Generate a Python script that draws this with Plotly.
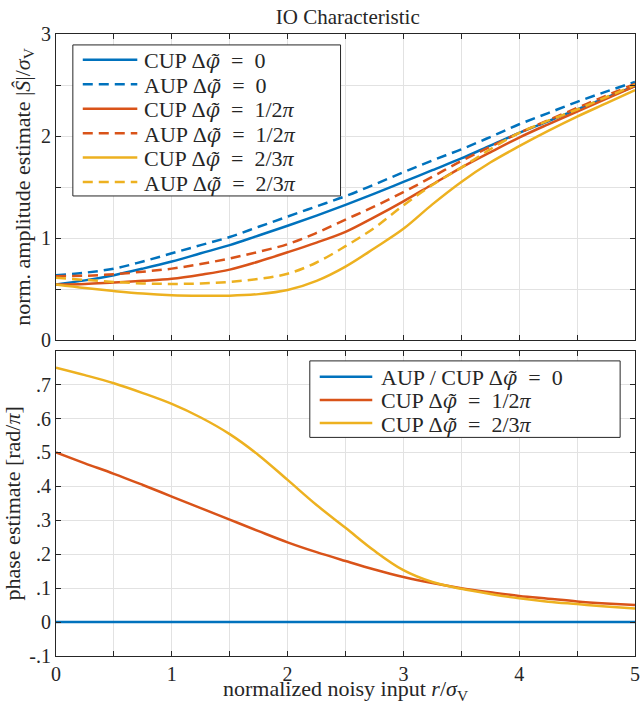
import plotly.graph_objects as go

# ---- data ----
x_top = [0, 0.25, 0.5, 0.75, 1, 1.25, 1.5, 1.75, 2, 2.25, 2.5, 2.75, 3, 3.25, 3.5, 3.75, 4, 4.25, 4.5, 4.75, 5]
cup0  = [0.545, 0.585, 0.636, 0.70, 0.77, 0.85, 0.93, 1.025, 1.12, 1.22, 1.325, 1.435, 1.55, 1.665, 1.78, 1.905, 2.03, 2.145, 2.26, 2.375, 2.49]
aup0  = [0.636, 0.66, 0.70, 0.77, 0.85, 0.93, 1.01, 1.11, 1.21, 1.31, 1.41, 1.525, 1.645, 1.76, 1.87, 1.99, 2.115, 2.225, 2.335, 2.435, 2.53]
cup12 = [0.545, 0.55, 0.565, 0.58, 0.60, 0.64, 0.69, 0.77, 0.86, 0.955, 1.06, 1.205, 1.36, 1.525, 1.69, 1.84, 1.985, 2.115, 2.24, 2.365, 2.49]
aup12 = [0.626, 0.63, 0.645, 0.67, 0.70, 0.745, 0.80, 0.865, 0.94, 1.05, 1.18, 1.31, 1.45, 1.60, 1.755, 1.895, 2.03, 2.155, 2.275, 2.395, 2.51]
cup23 = [0.545, 0.51, 0.48, 0.455, 0.44, 0.435, 0.435, 0.45, 0.49, 0.58, 0.72, 0.90, 1.09, 1.33, 1.55, 1.74, 1.90, 2.05, 2.19, 2.32, 2.45]
aup23 = [0.61, 0.59, 0.57, 0.555, 0.55, 0.555, 0.57, 0.60, 0.65, 0.76, 0.92, 1.10, 1.32, 1.52, 1.69, 1.87, 2.03, 2.15, 2.26, 2.38, 2.50]

x_bot = [0, 0.25, 0.5, 0.75, 1, 1.25, 1.5, 1.75, 2, 2.25, 2.5, 2.75, 3, 3.25, 3.5, 3.75, 4, 4.25, 4.5, 4.75, 5]
ph0   = [0] * 21
ph12  = [0.5, 0.468, 0.437, 0.404, 0.37, 0.336, 0.302, 0.268, 0.235, 0.206, 0.18, 0.155, 0.133, 0.115, 0.10, 0.088, 0.077, 0.069, 0.061, 0.055, 0.05]
ph23  = [0.75, 0.728, 0.704, 0.675, 0.643, 0.603, 0.554, 0.492, 0.419, 0.345, 0.278, 0.21, 0.153, 0.118, 0.098, 0.083, 0.07, 0.06, 0.053, 0.046, 0.04]

top_ticks = [0, 0.5, 1, 1.5, 2, 2.5, 3]
top_ticktext = ["0", "", "1", "", "2", "", "3"]
bot_ticks = [-0.1, 0, 0.1, 0.2, 0.3, 0.4, 0.5, 0.6, 0.7, 0.8]
bot_ticktext = ["-.1", "0", ".1", ".2", ".3", ".4", ".5", ".6", ".7", ""]
x_ticks = [0, 0.5, 1, 1.5, 2, 2.5, 3, 3.5, 4, 4.5, 5]
x_ticktext = ["0", "", "1", "", "2", "", "3", "", "4", "", "5"]

BLUE, ORANGE, YELLOW = "#0072BD", "#D95319", "#EDB120"
FONT = "Liberation Serif, Times New Roman, serif"
INK = "#262626"
DASH = "10px,6px"
PHI = 'Δ<span style="font-family:Noto Serif;font-size:20px"><i>φ̃</i></span>'
PI = "<i>π</i>"
EQ = "\u2002=\u2002"

top_labels = [f"CUP {PHI}{EQ}0", f"AUP {PHI}{EQ}0",
              f"CUP {PHI}{EQ}1/2{PI}", f"AUP {PHI}{EQ}1/2{PI}",
              f"CUP {PHI}{EQ}2/3{PI}", f"AUP {PHI}{EQ}2/3{PI}"]
top_series = [cup0, aup0, cup12, aup12, cup23, aup23]
top_colors = [BLUE, BLUE, ORANGE, ORANGE, YELLOW, YELLOW]
top_dashes = ["solid", DASH, "solid", DASH, "solid", DASH]

bot_labels = [f"AUP / CUP {PHI}{EQ}0", f"CUP {PHI}{EQ}1/2{PI}", f"CUP {PHI}{EQ}2/3{PI}"]
bot_series = [ph0, ph12, ph23]
bot_colors = [BLUE, ORANGE, YELLOW]

fig = go.Figure()

for y, name, c, d in zip(top_series, top_labels, top_colors, top_dashes):
    fig.add_trace(go.Scatter(x=x_top, y=y, name=name, mode="lines", showlegend=False,
                             line=dict(color=c, width=2.5, dash=d, shape="spline", smoothing=1.0),
                             xaxis="x", yaxis="y"))
for y, name, c in zip(bot_series, bot_labels, bot_colors):
    fig.add_trace(go.Scatter(x=x_bot, y=y, name=name, mode="lines", showlegend=False,
                             line=dict(color=c, width=2.5, shape="spline", smoothing=1.0),
                             xaxis="x2", yaxis="y2"))

# ---- layout geometry (pixels of the 644x704 page) ----
L, R, T, B = 56, 640, 34, 660
def pxx(p):
    return (p - L) / (R - L)
def pxy(p):
    return (B - p) / (B - T)

def legend_box(x0, y0, x1, y1, rows_y, line_x0, line_x1, text_x, labels, colors, dashes):
    fig.add_shape(type="rect", xref="paper", yref="paper",
                  x0=pxx(x0), x1=pxx(x1), y0=pxy(y1), y1=pxy(y0),
                  line=dict(color=INK, width=1), fillcolor="white", layer="above")
    for ry, lab, c, d in zip(rows_y, labels, colors, dashes):
        fig.add_shape(type="line", xref="paper", yref="paper",
                      x0=pxx(line_x0), x1=pxx(line_x1), y0=pxy(ry), y1=pxy(ry),
                      line=dict(color=c, width=2.5, dash=d), layer="above")
        fig.add_annotation(xref="paper", yref="paper", x=pxx(text_x), y=pxy(ry + 1),
                           xanchor="left", yanchor="middle", showarrow=False, text=lab,
                           font=dict(family=FONT, size=22, color=INK))

legend_box(73, 45, 343, 197, [60, 84.6, 109.2, 133.8, 158.4, 183],
           83, 138, 143, top_labels, top_colors, top_dashes)
legend_box(312, 363, 625, 440, [379, 402.3, 425.6],
           322, 375, 382, bot_labels, bot_colors, ["solid"] * 3)

axis_common = dict(showline=True, linecolor=INK, linewidth=1, mirror="allticks",
                   ticks="inside", ticklen=5, tickcolor=INK, tickwidth=1,
                   showgrid=True, gridcolor="#e2e2e2", gridwidth=1, zeroline=False,
                   tickfont=dict(family=FONT, size=20, color=INK))

fig.update_layout(
    width=644, height=704,
    margin=dict(l=L, r=644 - R, t=T, b=704 - B),
    paper_bgcolor="white", plot_bgcolor="white",
    font=dict(family=FONT, size=20, color=INK),
    title=dict(text="IO Characteristic", x=0.54, xanchor="center",
               y=1 - 17 / 704, yanchor="middle",
               font=dict(family=FONT, size=21, color=INK)),
    xaxis=dict(domain=[0, 1], range=[0, 5], tickvals=x_ticks, ticktext=[""] * len(x_ticks),
               anchor="y", **axis_common),
    yaxis=dict(domain=[pxy(342), 1], range=[0, 3], tickvals=top_ticks, ticktext=top_ticktext,
               anchor="x",
               title=dict(text="norm. amplitude estimate |<i>Ŝ</i>|/<i>σ</i><sub>V</sub>",
                          font=dict(family=FONT, size=22, color=INK), standoff=4),
               **axis_common),
    xaxis2=dict(domain=[0, 1], range=[0, 5], tickvals=x_ticks, ticktext=x_ticktext,
                anchor="y2",
                title=dict(text="normalized noisy input <i>r</i>/<i>σ</i><sub>V</sub>",
                           font=dict(family=FONT, size=22, color=INK), standoff=0),
                **axis_common),
    yaxis2=dict(domain=[0, pxy(352.7)], range=[-0.1, 0.8], tickvals=bot_ticks, ticktext=bot_ticktext,
                anchor="x2",
                title=dict(text="phase estimate [rad/<i>π</i>]",
                           font=dict(family=FONT, size=22, color=INK), standoff=4),
                **axis_common),
)

fig.write_html("out.html", config={"displayModeBar": False},
               post_script="document.body.style.margin='0';document.body.style.overflow='hidden';")
